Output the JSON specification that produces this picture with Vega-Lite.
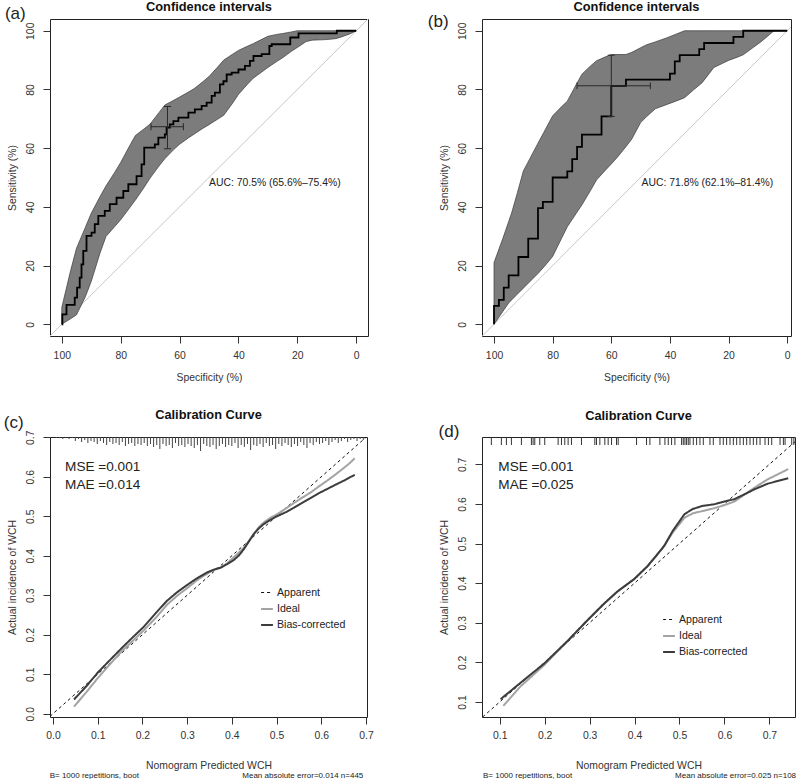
{
  "$schema": "https://vega.github.io/schema/vega-lite/v6.json",
  "background": "white",
  "padding": {"left": 3, "top": 0, "right": 0, "bottom": 0},
  "bounds": "flush",
  "columns": 2,
  "spacing": {"row": 101, "column": 114},
  "resolve": {"scale": {"color": "independent", "strokeDash": "independent", "strokeWidth": "independent", "size": "independent"}},
  "config": {
    "font": "Liberation Sans",
    "view": {"stroke": "#222", "strokeWidth": 1},
    "axis": {"domain": false, "grid": false, "tickSize": 7, "tickColor": "#333", "tickWidth": 1, "labelFont": "Liberation Sans", "labelFontSize": 10.4, "labelColor": "#333", "labelFlush": false, "labelOverlap": false, "titleFont": "Liberation Sans", "titleFontSize": 10.4, "titleFontWeight": "normal", "titleColor": "#333"},
    "axisY": {"labelAngle": -90, "labelAlign": "center", "labelBaseline": "bottom"},
    "title": {"font": "Liberation Sans", "fontSize": 12.8, "fontWeight": "bold", "color": "#111", "anchor": "middle", "frame": "group"},
    "text": {"font": "Liberation Sans", "color": "#222"}
  },
  "concat": [
        {
          "width": 318, "height": 317,
          "title": {"text": "Confidence intervals", "offset": -8.5},
          "layer": [
            {
              "data": {"values": [{"s": 104, "v": -4}, {"s": -4, "v": 104}]},
              "mark": {"type": "line", "color": "#c8c8c8", "strokeWidth": 1, "clip": true},
              "encoding": {
                "x": {"field": "s", "type": "quantitative", "scale": {"domain": [-4, 104], "reverse": true, "nice": false, "zero": false}, "axis": {"values": [0, 20, 40, 60, 80, 100], "tickCount": 12, "labelOverlap": false, "title": "Specificity (%)", "labelPadding": 7.5, "titlePadding": 12}},
                "y": {"field": "v", "type": "quantitative", "scale": {"domain": [-4, 104], "nice": false, "zero": false}, "axis": {"values": [0, 20, 40, 60, 80, 100], "tickCount": 12, "labelOverlap": false, "title": "Sensitivity (%)", "labelPadding": 7.5, "titlePadding": 8}},
                "order": {"value": null}
              }
            },
            {
              "data": {"values": [
                {"s": 100, "lo": 0, "hi": 5.7}, {"s": 97, "lo": 1.9, "hi": 18.3}, {"s": 95, "lo": 3.2, "hi": 25.9}, {"s": 92, "lo": 9.35, "hi": 33.0}, {"s": 90, "lo": 14.6, "hi": 37.8}, {"s": 87, "lo": 24.3, "hi": 43.5}, {"s": 85, "lo": 29.9, "hi": 47.1}, {"s": 82, "lo": 33.3, "hi": 51.8}, {"s": 80, "lo": 35.6, "hi": 55.1}, {"s": 77, "lo": 39.6, "hi": 60.7}, {"s": 75, "lo": 42.3, "hi": 64.3}, {"s": 72, "lo": 46.7, "hi": 66.6}, {"s": 70, "lo": 49.8, "hi": 68.2}, {"s": 67, "lo": 53.9, "hi": 72.1}, {"s": 65, "lo": 56.4, "hi": 74.7}, {"s": 62, "lo": 59.5, "hi": 76.3}, {"s": 60, "lo": 61.3, "hi": 77.4}, {"s": 57, "lo": 63.5, "hi": 79.1}, {"s": 55, "lo": 64.8, "hi": 80.3}, {"s": 52, "lo": 66.8, "hi": 82.7}, {"s": 50, "lo": 68.0, "hi": 84.4}, {"s": 47, "lo": 69.9, "hi": 87.7}, {"s": 45, "lo": 71.2, "hi": 90.0}, {"s": 42, "lo": 75.3, "hi": 92.0}, {"s": 40, "lo": 78.3, "hi": 93.3}, {"s": 37, "lo": 81.7, "hi": 94.7}, {"s": 35, "lo": 83.8, "hi": 95.6}, {"s": 32, "lo": 86.0, "hi": 97.1}, {"s": 30, "lo": 87.5, "hi": 98.1}, {"s": 27, "lo": 89.5, "hi": 98.75}, {"s": 25, "lo": 90.8, "hi": 99.05}, {"s": 22, "lo": 93.0, "hi": 99.6}, {"s": 20, "lo": 94.3, "hi": 100}, {"s": 17, "lo": 96.3, "hi": 100}, {"s": 15, "lo": 96.8, "hi": 100}, {"s": 12, "lo": 96.9, "hi": 100}, {"s": 10, "lo": 97.0, "hi": 100}, {"s": 7, "lo": 97.3, "hi": 100}, {"s": 5, "lo": 97.9, "hi": 100}, {"s": 2, "lo": 99.0, "hi": 100}, {"s": 0, "lo": 100, "hi": 100}
              ]},
              "mark": {"type": "area", "color": "#7c7c7c", "opacity": 1, "stroke": "#3a3a3a", "strokeWidth": 0.7},
              "encoding": {
                "x": {"field": "s", "type": "quantitative"},
                "y": {"field": "lo", "type": "quantitative"},
                "y2": {"field": "hi"}
              }
            },
            {
              "data": {"values": [
                {"s": 100, "v": 0}, {"s": 99.8, "v": 0}, {"s": 99.8, "v": 3.4}, {"s": 98.4, "v": 3.4}, {"s": 98.4, "v": 6.6}, {"s": 95.6, "v": 6.6}, {"s": 95.6, "v": 9.1}, {"s": 94.8, "v": 9.1}, {"s": 94.8, "v": 12.5}, {"s": 93.9, "v": 12.5}, {"s": 93.9, "v": 15.9}, {"s": 93.3, "v": 15.9}, {"s": 93.3, "v": 20.4}, {"s": 92.7, "v": 20.4}, {"s": 92.7, "v": 25.0}, {"s": 91.6, "v": 25.0}, {"s": 91.6, "v": 30.1}, {"s": 89.9, "v": 30.1}, {"s": 89.9, "v": 31.2}, {"s": 88.8, "v": 31.2}, {"s": 88.8, "v": 34.1}, {"s": 87.6, "v": 34.1}, {"s": 87.6, "v": 36.9}, {"s": 85.4, "v": 36.9}, {"s": 85.4, "v": 38.6}, {"s": 83.7, "v": 38.6}, {"s": 83.7, "v": 40.9}, {"s": 81.4, "v": 40.9}, {"s": 81.4, "v": 43.1}, {"s": 79.1, "v": 43.1}, {"s": 79.1, "v": 45.4}, {"s": 77.4, "v": 45.4}, {"s": 77.4, "v": 47.7}, {"s": 74.6, "v": 47.7}, {"s": 74.6, "v": 50.5}, {"s": 72.9, "v": 50.5}, {"s": 72.9, "v": 54.5}, {"s": 72.0, "v": 54.5}, {"s": 72.0, "v": 60.2}, {"s": 68.4, "v": 60.2}, {"s": 68.4, "v": 61.3}, {"s": 67.2, "v": 61.3}, {"s": 67.2, "v": 63.6}, {"s": 65.0, "v": 63.6}, {"s": 65.0, "v": 64.7}, {"s": 64.4, "v": 64.7}, {"s": 64.4, "v": 67.0}, {"s": 63.3, "v": 67.0}, {"s": 63.3, "v": 68.1}, {"s": 62.1, "v": 68.1}, {"s": 62.1, "v": 69.2}, {"s": 60.4, "v": 69.2}, {"s": 60.4, "v": 70.4}, {"s": 57.0, "v": 70.4}, {"s": 57.0, "v": 72.1}, {"s": 54.8, "v": 72.1}, {"s": 54.8, "v": 73.2}, {"s": 52.5, "v": 73.2}, {"s": 52.5, "v": 74.4}, {"s": 50.8, "v": 74.4}, {"s": 50.8, "v": 75.5}, {"s": 49.1, "v": 75.5}, {"s": 49.1, "v": 77.8}, {"s": 48.0, "v": 77.8}, {"s": 48.0, "v": 78.9}, {"s": 46.3, "v": 78.9}, {"s": 46.3, "v": 81.7}, {"s": 45.1, "v": 81.7}, {"s": 45.1, "v": 82.8}, {"s": 44.0, "v": 82.8}, {"s": 44.0, "v": 85.1}, {"s": 42.3, "v": 85.1}, {"s": 42.3, "v": 85.7}, {"s": 40.0, "v": 85.7}, {"s": 40.0, "v": 86.8}, {"s": 37.8, "v": 86.8}, {"s": 37.8, "v": 88.0}, {"s": 36.1, "v": 88.0}, {"s": 36.1, "v": 89.7}, {"s": 34.9, "v": 89.7}, {"s": 34.9, "v": 91.4}, {"s": 32.1, "v": 91.4}, {"s": 32.1, "v": 92.0}, {"s": 29.5, "v": 92.0}, {"s": 29.5, "v": 94.8}, {"s": 28.7, "v": 94.8}, {"s": 28.7, "v": 95.4}, {"s": 22.4, "v": 95.4}, {"s": 22.4, "v": 97.7}, {"s": 19.6, "v": 97.7}, {"s": 19.6, "v": 99.1}, {"s": 6.6, "v": 99.1}, {"s": 6.6, "v": 100}, {"s": 0, "v": 100}
              ]},
              "mark": {"type": "line", "color": "#000", "strokeWidth": 1.8},
              "encoding": {
                "x": {"field": "s", "type": "quantitative"},
                "y": {"field": "v", "type": "quantitative"},
                "order": {"value": null}
              }
            },
            {
              "data": {"values": [
                {"s": 69.7, "s2": 58.7, "v": 67.3, "v2": 67.3}, {"s": 64.1, "s2": 64.1, "v": 59.8, "v2": 74.2},
                {"s": 69.7, "s2": 69.7, "v": 66.1, "v2": 68.5}, {"s": 58.7, "s2": 58.7, "v": 66.1, "v2": 68.5},
                {"s": 65.3, "s2": 62.9, "v": 59.8, "v2": 59.8}, {"s": 65.3, "s2": 62.9, "v": 74.2, "v2": 74.2}
              ]},
              "mark": {"type": "rule", "color": "#2a2a2a", "strokeWidth": 1},
              "encoding": {
                "x": {"field": "s", "type": "quantitative"}, "x2": {"field": "s2"},
                "y": {"field": "v", "type": "quantitative"}, "y2": {"field": "v2"}
              }
            },
            {
              "data": {"values": [{"t": "AUC: 70.5% (65.6%–75.4%)"}]},
              "mark": {"type": "text", "align": "left", "baseline": "middle", "fontSize": 10.4},
              "encoding": {"x": {"datum": 50}, "y": {"datum": 48.2}, "text": {"field": "t"}}
            },
            {
              "data": {"values": [{"t": "(a)"}]},
              "mark": {"type": "text", "align": "left", "baseline": "middle", "fontSize": 17},
              "encoding": {"x": {"datum": 119.3}, "y": {"datum": 105.7}, "text": {"field": "t"}}
            }
          ]
        },
        {
          "width": 309, "height": 317,
          "title": {"text": "Confidence intervals", "offset": -0.5},
          "layer": [
            {
              "data": {"values": [{"s": 104, "v": -4}, {"s": -1.3, "v": 101.3}]},
              "mark": {"type": "line", "color": "#c8c8c8", "strokeWidth": 1, "clip": true},
              "encoding": {
                "x": {"field": "s", "type": "quantitative", "scale": {"domain": [-1.3, 104.1], "reverse": true, "nice": false, "zero": false}, "axis": {"values": [0, 20, 40, 60, 80, 100], "tickCount": 12, "labelOverlap": false, "title": "Specificity (%)", "labelPadding": 7.5, "titlePadding": 12}},
                "y": {"field": "v", "type": "quantitative", "scale": {"domain": [-4, 104], "nice": false, "zero": false}, "axis": {"values": [0, 20, 40, 60, 80, 100], "tickCount": 12, "labelOverlap": false, "title": "Sensitivity (%)", "labelPadding": 7.5, "titlePadding": 8}},
                "order": {"value": null}
              }
            },
            {
              "data": {"values": [
                {"s": 100, "lo": 0, "hi": 21}, {"s": 97, "lo": 4.35, "hi": 29.2}, {"s": 95, "lo": 7.25, "hi": 35.0}, {"s": 94, "lo": 8.3, "hi": 37.9}, {"s": 92, "lo": 10.3, "hi": 44.9}, {"s": 90, "lo": 12.3, "hi": 52.2}, {"s": 88, "lo": 14.3, "hi": 56.0}, {"s": 85, "lo": 17.3, "hi": 61.7}, {"s": 83, "lo": 19.5, "hi": 65.4}, {"s": 80, "lo": 23.1, "hi": 71.0}, {"s": 77, "lo": 29.2, "hi": 74.1}, {"s": 75, "lo": 33.2, "hi": 76.0}, {"s": 72, "lo": 37.7, "hi": 81.6}, {"s": 70, "lo": 40.7, "hi": 85.2}, {"s": 67, "lo": 45.7, "hi": 88.1}, {"s": 65, "lo": 49.2, "hi": 89.8}, {"s": 62, "lo": 52.5, "hi": 91.1}, {"s": 60, "lo": 54.6, "hi": 91.9}, {"s": 58, "lo": 56.8, "hi": 91.9}, {"s": 55, "lo": 60.5, "hi": 91.9}, {"s": 53, "lo": 63.1, "hi": 92.65}, {"s": 50, "lo": 68.7, "hi": 94.2}, {"s": 48, "lo": 70.7, "hi": 95.2}, {"s": 45, "lo": 73.4, "hi": 96.2}, {"s": 41, "lo": 74.9, "hi": 97.6}, {"s": 38, "lo": 76.0, "hi": 98.8}, {"s": 35, "lo": 77.2, "hi": 100}, {"s": 32, "lo": 79.8, "hi": 100}, {"s": 29, "lo": 82.3, "hi": 100}, {"s": 25, "lo": 87.5, "hi": 100}, {"s": 22, "lo": 88.9, "hi": 100}, {"s": 20, "lo": 89.9, "hi": 100}, {"s": 17, "lo": 91.0, "hi": 100}, {"s": 15, "lo": 91.8, "hi": 100}, {"s": 12, "lo": 94.0, "hi": 100}, {"s": 9, "lo": 96.2, "hi": 100}, {"s": 6, "lo": 98.7, "hi": 100}, {"s": 4.5, "lo": 100, "hi": 100}, {"s": 0, "lo": 100, "hi": 100}
              ]},
              "mark": {"type": "area", "color": "#7c7c7c", "opacity": 1, "stroke": "#3a3a3a", "strokeWidth": 0.7},
              "encoding": {
                "x": {"field": "s", "type": "quantitative"},
                "y": {"field": "lo", "type": "quantitative"},
                "y2": {"field": "hi"}
              }
            },
            {
              "data": {"values": [
                {"s": 100, "v": 0}, {"s": 100, "v": 6.25}, {"s": 98.33, "v": 6.25}, {"s": 98.33, "v": 8.33}, {"s": 96.67, "v": 8.33}, {"s": 96.67, "v": 12.5}, {"s": 95, "v": 12.5}, {"s": 95, "v": 16.67}, {"s": 91.67, "v": 16.67}, {"s": 91.67, "v": 22.92}, {"s": 88.33, "v": 22.92}, {"s": 88.33, "v": 29.17}, {"s": 85, "v": 29.17}, {"s": 85, "v": 39.58}, {"s": 83.33, "v": 39.58}, {"s": 83.33, "v": 41.67}, {"s": 80, "v": 41.67}, {"s": 80, "v": 50}, {"s": 75, "v": 50}, {"s": 75, "v": 52.08}, {"s": 73.33, "v": 52.08}, {"s": 73.33, "v": 56.25}, {"s": 71.67, "v": 56.25}, {"s": 71.67, "v": 60.42}, {"s": 70, "v": 60.42}, {"s": 70, "v": 64.58}, {"s": 63.33, "v": 64.58}, {"s": 63.33, "v": 70.83}, {"s": 60, "v": 70.83}, {"s": 60, "v": 81.25}, {"s": 55, "v": 81.25}, {"s": 55, "v": 83.33}, {"s": 40, "v": 83.33}, {"s": 40, "v": 85.42}, {"s": 38.33, "v": 85.42}, {"s": 38.33, "v": 89.58}, {"s": 36.67, "v": 89.58}, {"s": 36.67, "v": 91.67}, {"s": 30, "v": 91.67}, {"s": 30, "v": 93.75}, {"s": 28.33, "v": 93.75}, {"s": 28.33, "v": 95.83}, {"s": 18.33, "v": 95.83}, {"s": 18.33, "v": 97.92}, {"s": 15, "v": 97.92}, {"s": 15, "v": 100}, {"s": 0, "v": 100}
              ]},
              "mark": {"type": "line", "color": "#000", "strokeWidth": 1.8},
              "encoding": {
                "x": {"field": "s", "type": "quantitative"},
                "y": {"field": "v", "type": "quantitative"},
                "order": {"value": null}
              }
            },
            {
              "data": {"values": [
                {"s": 71.67, "s2": 46.67, "v": 81.25, "v2": 81.25}, {"s": 60, "s2": 60, "v": 70.83, "v2": 91.67},
                {"s": 71.67, "s2": 71.67, "v": 80.1, "v2": 82.4}, {"s": 46.67, "s2": 46.67, "v": 80.1, "v2": 82.4},
                {"s": 61.2, "s2": 58.8, "v": 70.83, "v2": 70.83}, {"s": 61.2, "s2": 58.8, "v": 91.67, "v2": 91.67}
              ]},
              "mark": {"type": "rule", "color": "#2a2a2a", "strokeWidth": 1},
              "encoding": {
                "x": {"field": "s", "type": "quantitative"}, "x2": {"field": "s2"},
                "y": {"field": "v", "type": "quantitative"}, "y2": {"field": "v2"}
              }
            },
            {
              "data": {"values": [{"t": "AUC: 71.8% (62.1%–81.4%)"}]},
              "mark": {"type": "text", "align": "left", "baseline": "middle", "fontSize": 10.4},
              "encoding": {"x": {"datum": 49.7}, "y": {"datum": 48.2}, "text": {"field": "t"}}
            },
            {
              "data": {"values": [{"t": "(b)"}]},
              "mark": {"type": "text", "align": "left", "baseline": "middle", "fontSize": 17},
              "encoding": {"x": {"datum": 122.6}, "y": {"datum": 102.9}, "text": {"field": "t"}}
            }
          ]
        },
        {
          "width": 317, "height": 280,
          "title": {"text": "Calibration Curve", "offset": -8},
          "layer": [
                {
                  "data": {"values": [
                    {"pred": -0.0067, "obs": -0.0067, "series": "Apparent"}, {"pred": 0.7008, "obs": 0.7008, "series": "Apparent"},
                    {"pred": 0.047, "obs": 0.018, "series": "Ideal"}, {"pred": 0.075, "obs": 0.055, "series": "Ideal"}, {"pred": 0.100, "obs": 0.090, "series": "Ideal"}, {"pred": 0.125, "obs": 0.122, "series": "Ideal"}, {"pred": 0.151, "obs": 0.155, "series": "Ideal"}, {"pred": 0.177, "obs": 0.183, "series": "Ideal"}, {"pred": 0.203, "obs": 0.211, "series": "Ideal"}, {"pred": 0.230, "obs": 0.243, "series": "Ideal"}, {"pred": 0.255, "obs": 0.276, "series": "Ideal"}, {"pred": 0.278, "obs": 0.299, "series": "Ideal"}, {"pred": 0.300, "obs": 0.318, "series": "Ideal"}, {"pred": 0.322, "obs": 0.338, "series": "Ideal"}, {"pred": 0.345, "obs": 0.355, "series": "Ideal"}, {"pred": 0.360, "obs": 0.364, "series": "Ideal"}, {"pred": 0.375, "obs": 0.370, "series": "Ideal"}, {"pred": 0.390, "obs": 0.381, "series": "Ideal"}, {"pred": 0.404, "obs": 0.396, "series": "Ideal"}, {"pred": 0.416, "obs": 0.408, "series": "Ideal"}, {"pred": 0.427, "obs": 0.421, "series": "Ideal"}, {"pred": 0.438, "obs": 0.437, "series": "Ideal"}, {"pred": 0.449, "obs": 0.455, "series": "Ideal"}, {"pred": 0.460, "obs": 0.472, "series": "Ideal"}, {"pred": 0.471, "obs": 0.484, "series": "Ideal"}, {"pred": 0.486, "obs": 0.496, "series": "Ideal"}, {"pred": 0.501, "obs": 0.505, "series": "Ideal"}, {"pred": 0.520, "obs": 0.519, "series": "Ideal"}, {"pred": 0.538, "obs": 0.533, "series": "Ideal"}, {"pred": 0.557, "obs": 0.547, "series": "Ideal"}, {"pred": 0.576, "obs": 0.560, "series": "Ideal"}, {"pred": 0.594, "obs": 0.575, "series": "Ideal"}, {"pred": 0.613, "obs": 0.590, "series": "Ideal"}, {"pred": 0.632, "obs": 0.606, "series": "Ideal"}, {"pred": 0.650, "obs": 0.622, "series": "Ideal"}, {"pred": 0.663, "obs": 0.634, "series": "Ideal"}, {"pred": 0.675, "obs": 0.647, "series": "Ideal"},
                    {"pred": 0.047, "obs": 0.036, "series": "Bias-corrected"}, {"pred": 0.075, "obs": 0.070, "series": "Bias-corrected"}, {"pred": 0.100, "obs": 0.104, "series": "Bias-corrected"}, {"pred": 0.125, "obs": 0.133, "series": "Bias-corrected"}, {"pred": 0.151, "obs": 0.163, "series": "Bias-corrected"}, {"pred": 0.177, "obs": 0.192, "series": "Bias-corrected"}, {"pred": 0.203, "obs": 0.220, "series": "Bias-corrected"}, {"pred": 0.230, "obs": 0.255, "series": "Bias-corrected"}, {"pred": 0.255, "obs": 0.286, "series": "Bias-corrected"}, {"pred": 0.278, "obs": 0.308, "series": "Bias-corrected"}, {"pred": 0.300, "obs": 0.326, "series": "Bias-corrected"}, {"pred": 0.322, "obs": 0.343, "series": "Bias-corrected"}, {"pred": 0.345, "obs": 0.358, "series": "Bias-corrected"}, {"pred": 0.360, "obs": 0.365, "series": "Bias-corrected"}, {"pred": 0.375, "obs": 0.370, "series": "Bias-corrected"}, {"pred": 0.390, "obs": 0.379, "series": "Bias-corrected"}, {"pred": 0.404, "obs": 0.389, "series": "Bias-corrected"}, {"pred": 0.416, "obs": 0.401, "series": "Bias-corrected"}, {"pred": 0.427, "obs": 0.417, "series": "Bias-corrected"}, {"pred": 0.438, "obs": 0.436, "series": "Bias-corrected"}, {"pred": 0.449, "obs": 0.455, "series": "Bias-corrected"}, {"pred": 0.460, "obs": 0.469, "series": "Bias-corrected"}, {"pred": 0.471, "obs": 0.480, "series": "Bias-corrected"}, {"pred": 0.486, "obs": 0.491, "series": "Bias-corrected"}, {"pred": 0.501, "obs": 0.500, "series": "Bias-corrected"}, {"pred": 0.520, "obs": 0.510, "series": "Bias-corrected"}, {"pred": 0.538, "obs": 0.521, "series": "Bias-corrected"}, {"pred": 0.557, "obs": 0.534, "series": "Bias-corrected"}, {"pred": 0.576, "obs": 0.546, "series": "Bias-corrected"}, {"pred": 0.594, "obs": 0.558, "series": "Bias-corrected"}, {"pred": 0.613, "obs": 0.569, "series": "Bias-corrected"}, {"pred": 0.632, "obs": 0.580, "series": "Bias-corrected"}, {"pred": 0.650, "obs": 0.590, "series": "Bias-corrected"}, {"pred": 0.663, "obs": 0.598, "series": "Bias-corrected"}, {"pred": 0.675, "obs": 0.605, "series": "Bias-corrected"}
                  ]},
                  "mark": {"type": "line", "clip": true},
                  "encoding": {
                    "x": {"field": "pred", "type": "quantitative", "scale": {"domain": [-0.0067, 0.7023], "nice": false, "zero": false}, "axis": {"values": [0, 0.1, 0.2, 0.3, 0.4, 0.5, 0.6, 0.7], "tickCount": 12, "labelOverlap": false, "format": ".1f", "title": "Nomogram Predicted WCH", "labelPadding": 6.5, "titlePadding": 20}},
                    "y": {"field": "obs", "type": "quantitative", "scale": {"domain": [-0.0084, 0.7008], "nice": false, "zero": false}, "axis": {"values": [0, 0.1, 0.2, 0.3, 0.4, 0.5, 0.6, 0.7], "tickCount": 12, "labelOverlap": false, "format": ".1f", "title": "Actual incidence of WCH", "labelPadding": 7.5, "titlePadding": 8}},
                    "color": {"field": "series", "type": "nominal", "scale": {"domain": ["Apparent", "Ideal", "Bias-corrected"], "range": ["#111111", "#a3a3a3", "#3c3c3c"]}, "legend": {"orient": "none", "legendX": 210, "legendY": 149, "title": null, "symbolType": "stroke", "symbolSize": 140, "symbolStrokeWidth": 1.8, "labelFontSize": 10.6, "labelColor": "#222", "labelOffset": 3, "rowPadding": 3}},
                    "strokeDash": {"field": "series", "type": "nominal", "scale": {"domain": ["Apparent", "Ideal", "Bias-corrected"], "range": [[3, 3], [1, 0], [1, 0]]}, "legend": {"orient": "none", "legendX": 210, "legendY": 149, "title": null, "symbolType": "stroke", "symbolSize": 140, "symbolStrokeWidth": 1.8, "labelFontSize": 10.6, "labelColor": "#222", "labelOffset": 3, "rowPadding": 3}},
                    "strokeWidth": {"field": "series", "type": "ordinal", "scale": {"type": "ordinal", "domain": ["Apparent", "Ideal", "Bias-corrected"], "range": [1, 2, 2]}, "legend": null}
                  }
                },
                {
                  "data": {"values": [
                    {"pred": 0.008, "n": 1}, {"pred": 0.015, "n": 1}, {"pred": 0.022, "n": 2}, {"pred": 0.029, "n": 1}, {"pred": 0.036, "n": 2}, {"pred": 0.043, "n": 1}, {"pred": 0.050, "n": 4}, {"pred": 0.057, "n": 2}, {"pred": 0.064, "n": 5}, {"pred": 0.071, "n": 3}, {"pred": 0.078, "n": 6}, {"pred": 0.085, "n": 4}, {"pred": 0.092, "n": 5}, {"pred": 0.099, "n": 7}, {"pred": 0.106, "n": 4}, {"pred": 0.113, "n": 6}, {"pred": 0.120, "n": 8}, {"pred": 0.127, "n": 5}, {"pred": 0.134, "n": 7}, {"pred": 0.141, "n": 6}, {"pred": 0.148, "n": 8}, {"pred": 0.155, "n": 5}, {"pred": 0.162, "n": 9}, {"pred": 0.169, "n": 7}, {"pred": 0.176, "n": 6}, {"pred": 0.183, "n": 9}, {"pred": 0.190, "n": 7}, {"pred": 0.197, "n": 8}, {"pred": 0.204, "n": 6}, {"pred": 0.211, "n": 9}, {"pred": 0.218, "n": 7}, {"pred": 0.225, "n": 10}, {"pred": 0.232, "n": 8}, {"pred": 0.239, "n": 12}, {"pred": 0.246, "n": 7}, {"pred": 0.253, "n": 9}, {"pred": 0.260, "n": 8}, {"pred": 0.267, "n": 11}, {"pred": 0.274, "n": 6}, {"pred": 0.281, "n": 9}, {"pred": 0.288, "n": 8}, {"pred": 0.295, "n": 10}, {"pred": 0.302, "n": 7}, {"pred": 0.309, "n": 9}, {"pred": 0.316, "n": 11}, {"pred": 0.323, "n": 8}, {"pred": 0.330, "n": 14}, {"pred": 0.337, "n": 7}, {"pred": 0.344, "n": 9}, {"pred": 0.351, "n": 10}, {"pred": 0.358, "n": 8}, {"pred": 0.365, "n": 12}, {"pred": 0.372, "n": 9}, {"pred": 0.379, "n": 7}, {"pred": 0.386, "n": 10}, {"pred": 0.393, "n": 8}, {"pred": 0.400, "n": 9}, {"pred": 0.407, "n": 6}, {"pred": 0.414, "n": 11}, {"pred": 0.421, "n": 8}, {"pred": 0.428, "n": 10}, {"pred": 0.435, "n": 7}, {"pred": 0.442, "n": 13}, {"pred": 0.449, "n": 8}, {"pred": 0.456, "n": 9}, {"pred": 0.463, "n": 7}, {"pred": 0.470, "n": 10}, {"pred": 0.477, "n": 6}, {"pred": 0.484, "n": 9}, {"pred": 0.491, "n": 8}, {"pred": 0.498, "n": 12}, {"pred": 0.505, "n": 7}, {"pred": 0.512, "n": 9}, {"pred": 0.519, "n": 6}, {"pred": 0.526, "n": 8}, {"pred": 0.533, "n": 10}, {"pred": 0.540, "n": 7}, {"pred": 0.547, "n": 9}, {"pred": 0.554, "n": 5}, {"pred": 0.561, "n": 8}, {"pred": 0.568, "n": 11}, {"pred": 0.575, "n": 6}, {"pred": 0.582, "n": 8}, {"pred": 0.589, "n": 5}, {"pred": 0.596, "n": 7}, {"pred": 0.603, "n": 6}, {"pred": 0.610, "n": 4}, {"pred": 0.617, "n": 8}, {"pred": 0.624, "n": 5}, {"pred": 0.631, "n": 3}, {"pred": 0.638, "n": 6}, {"pred": 0.645, "n": 4}, {"pred": 0.652, "n": 2}, {"pred": 0.659, "n": 5}, {"pred": 0.666, "n": 3}, {"pred": 0.673, "n": 2}, {"pred": 0.680, "n": 4}, {"pred": 0.687, "n": 2}, {"pred": 0.694, "n": 3}
                  ]},
                  "mark": {"type": "tick", "orient": "vertical", "clip": true, "color": "#444", "opacity": 1, "thickness": 1},
                  "encoding": {
                    "x": {"field": "pred", "type": "quantitative"},
                    "y": {"datum": 0.7008},
                    "size": {"field": "n", "type": "quantitative", "scale": {"type": "linear", "domain": [0, 14], "range": [0, 28]}, "legend": null}
                  }
                },
                {
                  "data": {"values": [{"t": "MSE =0.001"}]},
                  "mark": {"type": "text", "align": "left", "baseline": "middle", "fontSize": 13.6},
                  "encoding": {"x": {"datum": 0.027}, "y": {"datum": 0.624}, "text": {"field": "t"}}
                },
                {
                  "data": {"values": [{"t": "MAE =0.014"}]},
                  "mark": {"type": "text", "align": "left", "baseline": "middle", "fontSize": 13.6},
                  "encoding": {"x": {"datum": 0.027}, "y": {"datum": 0.580}, "text": {"field": "t"}}
                },
                {
                  "data": {"values": [{"t": "B= 1000 repetitions, boot"}]},
                  "mark": {"type": "text", "align": "left", "baseline": "middle", "fontSize": 8},
                  "encoding": {"x": {"datum": -0.0074}, "y": {"datum": -0.158}, "text": {"field": "t"}}
                },
                {
                  "data": {"values": [{"t": "Mean absolute error=0.014 n=445"}]},
                  "mark": {"type": "text", "align": "right", "baseline": "middle", "fontSize": 8},
                  "encoding": {"x": {"datum": 0.694}, "y": {"datum": -0.158}, "text": {"field": "t"}}
                },
                {
                  "data": {"values": [{"t": "(c)"}]},
                  "mark": {"type": "text", "align": "left", "baseline": "middle", "fontSize": 17},
                  "encoding": {"x": {"datum": -0.110}, "y": {"datum": 0.7363}, "text": {"field": "t"}}
                }
          ]
        },
        {
          "width": 313, "height": 280,
          "title": {"text": "Calibration Curve", "offset": 0},
          "resolve": {"scale": {"y": "independent"}},
          "layer": [
            {
              "layer": [
                {
                  "data": {"values": [
                    {"pred": 0.062, "obs": 0.062, "series": "Apparent"}, {"pred": 0.757, "obs": 0.757, "series": "Apparent"},
                    {"pred": 0.108, "obs": 0.090, "series": "Ideal"}, {"pred": 0.147, "obs": 0.140, "series": "Ideal"}, {"pred": 0.199, "obs": 0.193, "series": "Ideal"}, {"pred": 0.251, "obs": 0.254, "series": "Ideal"}, {"pred": 0.295, "obs": 0.306, "series": "Ideal"}, {"pred": 0.332, "obs": 0.348, "series": "Ideal"}, {"pred": 0.362, "obs": 0.379, "series": "Ideal"}, {"pred": 0.399, "obs": 0.410, "series": "Ideal"}, {"pred": 0.429, "obs": 0.443, "series": "Ideal"}, {"pred": 0.451, "obs": 0.473, "series": "Ideal"}, {"pred": 0.466, "obs": 0.494, "series": "Ideal"}, {"pred": 0.485, "obs": 0.528, "series": "Ideal"}, {"pred": 0.511, "obs": 0.565, "series": "Ideal"}, {"pred": 0.529, "obs": 0.576, "series": "Ideal"}, {"pred": 0.551, "obs": 0.582, "series": "Ideal"}, {"pred": 0.577, "obs": 0.589, "series": "Ideal"}, {"pred": 0.600, "obs": 0.597, "series": "Ideal"}, {"pred": 0.622, "obs": 0.606, "series": "Ideal"}, {"pred": 0.644, "obs": 0.623, "series": "Ideal"}, {"pred": 0.667, "obs": 0.641, "series": "Ideal"}, {"pred": 0.696, "obs": 0.662, "series": "Ideal"}, {"pred": 0.742, "obs": 0.688, "series": "Ideal"},
                    {"pred": 0.102, "obs": 0.107, "series": "Bias-corrected"}, {"pred": 0.147, "obs": 0.149, "series": "Bias-corrected"}, {"pred": 0.199, "obs": 0.197, "series": "Bias-corrected"}, {"pred": 0.251, "obs": 0.254, "series": "Bias-corrected"}, {"pred": 0.295, "obs": 0.306, "series": "Bias-corrected"}, {"pred": 0.332, "obs": 0.348, "series": "Bias-corrected"}, {"pred": 0.362, "obs": 0.379, "series": "Bias-corrected"}, {"pred": 0.399, "obs": 0.410, "series": "Bias-corrected"}, {"pred": 0.429, "obs": 0.443, "series": "Bias-corrected"}, {"pred": 0.451, "obs": 0.473, "series": "Bias-corrected"}, {"pred": 0.466, "obs": 0.494, "series": "Bias-corrected"}, {"pred": 0.485, "obs": 0.532, "series": "Bias-corrected"}, {"pred": 0.511, "obs": 0.574, "series": "Bias-corrected"}, {"pred": 0.529, "obs": 0.587, "series": "Bias-corrected"}, {"pred": 0.551, "obs": 0.595, "series": "Bias-corrected"}, {"pred": 0.577, "obs": 0.599, "series": "Bias-corrected"}, {"pred": 0.600, "obs": 0.606, "series": "Bias-corrected"}, {"pred": 0.622, "obs": 0.612, "series": "Bias-corrected"}, {"pred": 0.644, "obs": 0.624, "series": "Bias-corrected"}, {"pred": 0.667, "obs": 0.637, "series": "Bias-corrected"}, {"pred": 0.696, "obs": 0.651, "series": "Bias-corrected"}, {"pred": 0.742, "obs": 0.665, "series": "Bias-corrected"}
                  ]},
                  "mark": {"type": "line", "clip": true},
                  "encoding": {
                    "x": {"field": "pred", "type": "quantitative", "scale": {"domain": [0.0606, 0.757], "nice": false, "zero": false}, "axis": {"values": [0.1, 0.2, 0.3, 0.4, 0.5, 0.6, 0.7], "tickCount": 12, "labelOverlap": false, "format": ".1f", "title": "Nomogram Predicted WCH", "labelPadding": 6.5, "titlePadding": 20}},
                    "y": {"field": "obs", "type": "quantitative", "scale": {"domain": [0.062, 0.769], "nice": false, "zero": false}, "axis": {"values": [0.1, 0.2, 0.3, 0.4, 0.5, 0.6, 0.7], "tickCount": 12, "labelOverlap": false, "format": ".1f", "title": "Actual incidence of WCH", "labelPadding": 7.5, "titlePadding": 8}},
                    "color": {"field": "series", "type": "nominal", "scale": {"domain": ["Apparent", "Ideal", "Bias-corrected"], "range": ["#111111", "#a3a3a3", "#3c3c3c"]}, "legend": {"orient": "none", "legendX": 180, "legendY": 176, "title": null, "symbolType": "stroke", "symbolSize": 140, "symbolStrokeWidth": 1.8, "labelFontSize": 10.6, "labelColor": "#222", "labelOffset": 3, "rowPadding": 3}},
                    "strokeDash": {"field": "series", "type": "nominal", "scale": {"domain": ["Apparent", "Ideal", "Bias-corrected"], "range": [[3, 3], [1, 0], [1, 0]]}, "legend": {"orient": "none", "legendX": 180, "legendY": 176, "title": null, "symbolType": "stroke", "symbolSize": 140, "symbolStrokeWidth": 1.8, "labelFontSize": 10.6, "labelColor": "#222", "labelOffset": 3, "rowPadding": 3}},
                    "strokeWidth": {"field": "series", "type": "ordinal", "scale": {"type": "ordinal", "domain": ["Apparent", "Ideal", "Bias-corrected"], "range": [1, 2, 2]}, "legend": null}
                  }
                },
                {
                  "data": {"values": [{"t": "MSE =0.001"}]},
                  "mark": {"type": "text", "align": "left", "baseline": "middle", "fontSize": 13.6},
                  "encoding": {"x": {"datum": 0.097}, "y": {"datum": 0.692}, "text": {"field": "t"}}
                },
                {
                  "data": {"values": [{"t": "MAE =0.025"}]},
                  "mark": {"type": "text", "align": "left", "baseline": "middle", "fontSize": 13.6},
                  "encoding": {"x": {"datum": 0.097}, "y": {"datum": 0.648}, "text": {"field": "t"}}
                },
                {
                  "data": {"values": [{"t": "B= 1000 repetitions, boot"}]},
                  "mark": {"type": "text", "align": "left", "baseline": "middle", "fontSize": 8},
                  "encoding": {"x": {"datum": 0.0628}, "y": {"datum": -0.087}, "text": {"field": "t"}}
                },
                {
                  "data": {"values": [{"t": "Mean absolute error=0.025 n=108"}]},
                  "mark": {"type": "text", "align": "right", "baseline": "middle", "fontSize": 8},
                  "encoding": {"x": {"datum": 0.7594}, "y": {"datum": -0.087}, "text": {"field": "t"}}
                },
                {
                  "data": {"values": [{"t": "(d)"}]},
                  "mark": {"type": "text", "align": "left", "baseline": "middle", "fontSize": 17},
                  "encoding": {"x": {"datum": -0.036}, "y": {"datum": 0.7816}, "text": {"field": "t"}}
                }
              ]
            },
            {
              "data": {"values": [
                {"pred": 0.0814, "n": 1}, {"pred": 0.1037, "n": 1}, {"pred": 0.1149, "n": 1}, {"pred": 0.126, "n": 1}, {"pred": 0.1483, "n": 1}, {"pred": 0.1705, "n": 1}, {"pred": 0.1743, "n": 1}, {"pred": 0.178, "n": 1}, {"pred": 0.1891, "n": 1}, {"pred": 0.2002, "n": 1}, {"pred": 0.23, "n": 1}, {"pred": 0.2374, "n": 1}, {"pred": 0.2448, "n": 1}, {"pred": 0.2522, "n": 1}, {"pred": 0.2596, "n": 1}, {"pred": 0.2819, "n": 1}, {"pred": 0.3116, "n": 1}, {"pred": 0.3153, "n": 1}, {"pred": 0.3228, "n": 1}, {"pred": 0.3339, "n": 1}, {"pred": 0.3413, "n": 1}, {"pred": 0.3488, "n": 1}, {"pred": 0.3599, "n": 1}, {"pred": 0.3636, "n": 1}, {"pred": 0.4045, "n": 1}, {"pred": 0.4267, "n": 1}, {"pred": 0.4342, "n": 1}, {"pred": 0.4564, "n": 1}, {"pred": 0.4676, "n": 1}, {"pred": 0.475, "n": 1}, {"pred": 0.4824, "n": 1}, {"pred": 0.4898, "n": 1}, {"pred": 0.5047, "n": 1}, {"pred": 0.5084, "n": 1}, {"pred": 0.5121, "n": 1}, {"pred": 0.5158, "n": 1}, {"pred": 0.5195, "n": 1}, {"pred": 0.5233, "n": 1}, {"pred": 0.5307, "n": 1}, {"pred": 0.5381, "n": 1}, {"pred": 0.5455, "n": 1}, {"pred": 0.553, "n": 1}, {"pred": 0.5678, "n": 1}, {"pred": 0.5752, "n": 1}, {"pred": 0.5901, "n": 1}, {"pred": 0.5975, "n": 1}, {"pred": 0.6049, "n": 1}, {"pred": 0.6124, "n": 1}, {"pred": 0.6198, "n": 1}, {"pred": 0.6272, "n": 1}, {"pred": 0.6346, "n": 1}, {"pred": 0.6421, "n": 1}, {"pred": 0.6495, "n": 1}, {"pred": 0.6569, "n": 1}, {"pred": 0.6643, "n": 1}, {"pred": 0.6718, "n": 1}, {"pred": 0.6792, "n": 1}, {"pred": 0.6903, "n": 1}, {"pred": 0.6978, "n": 1}, {"pred": 0.7052, "n": 1}, {"pred": 0.7237, "n": 1}, {"pred": 0.7312, "n": 1}, {"pred": 0.7349, "n": 1}, {"pred": 0.7497, "n": 1}, {"pred": 0.7545, "n": 1}
              ]},
              "mark": {"type": "rule", "color": "#333", "strokeWidth": 1},
              "encoding": {
                "x": {"field": "pred", "type": "quantitative"},
                "y": {"field": "n", "type": "quantitative", "scale": {"domain": [0, 35], "reverse": true, "nice": false, "zero": false}, "axis": null},
                "y2": {"datum": 0}
              }
            }
          ]
        }
  ]
}
